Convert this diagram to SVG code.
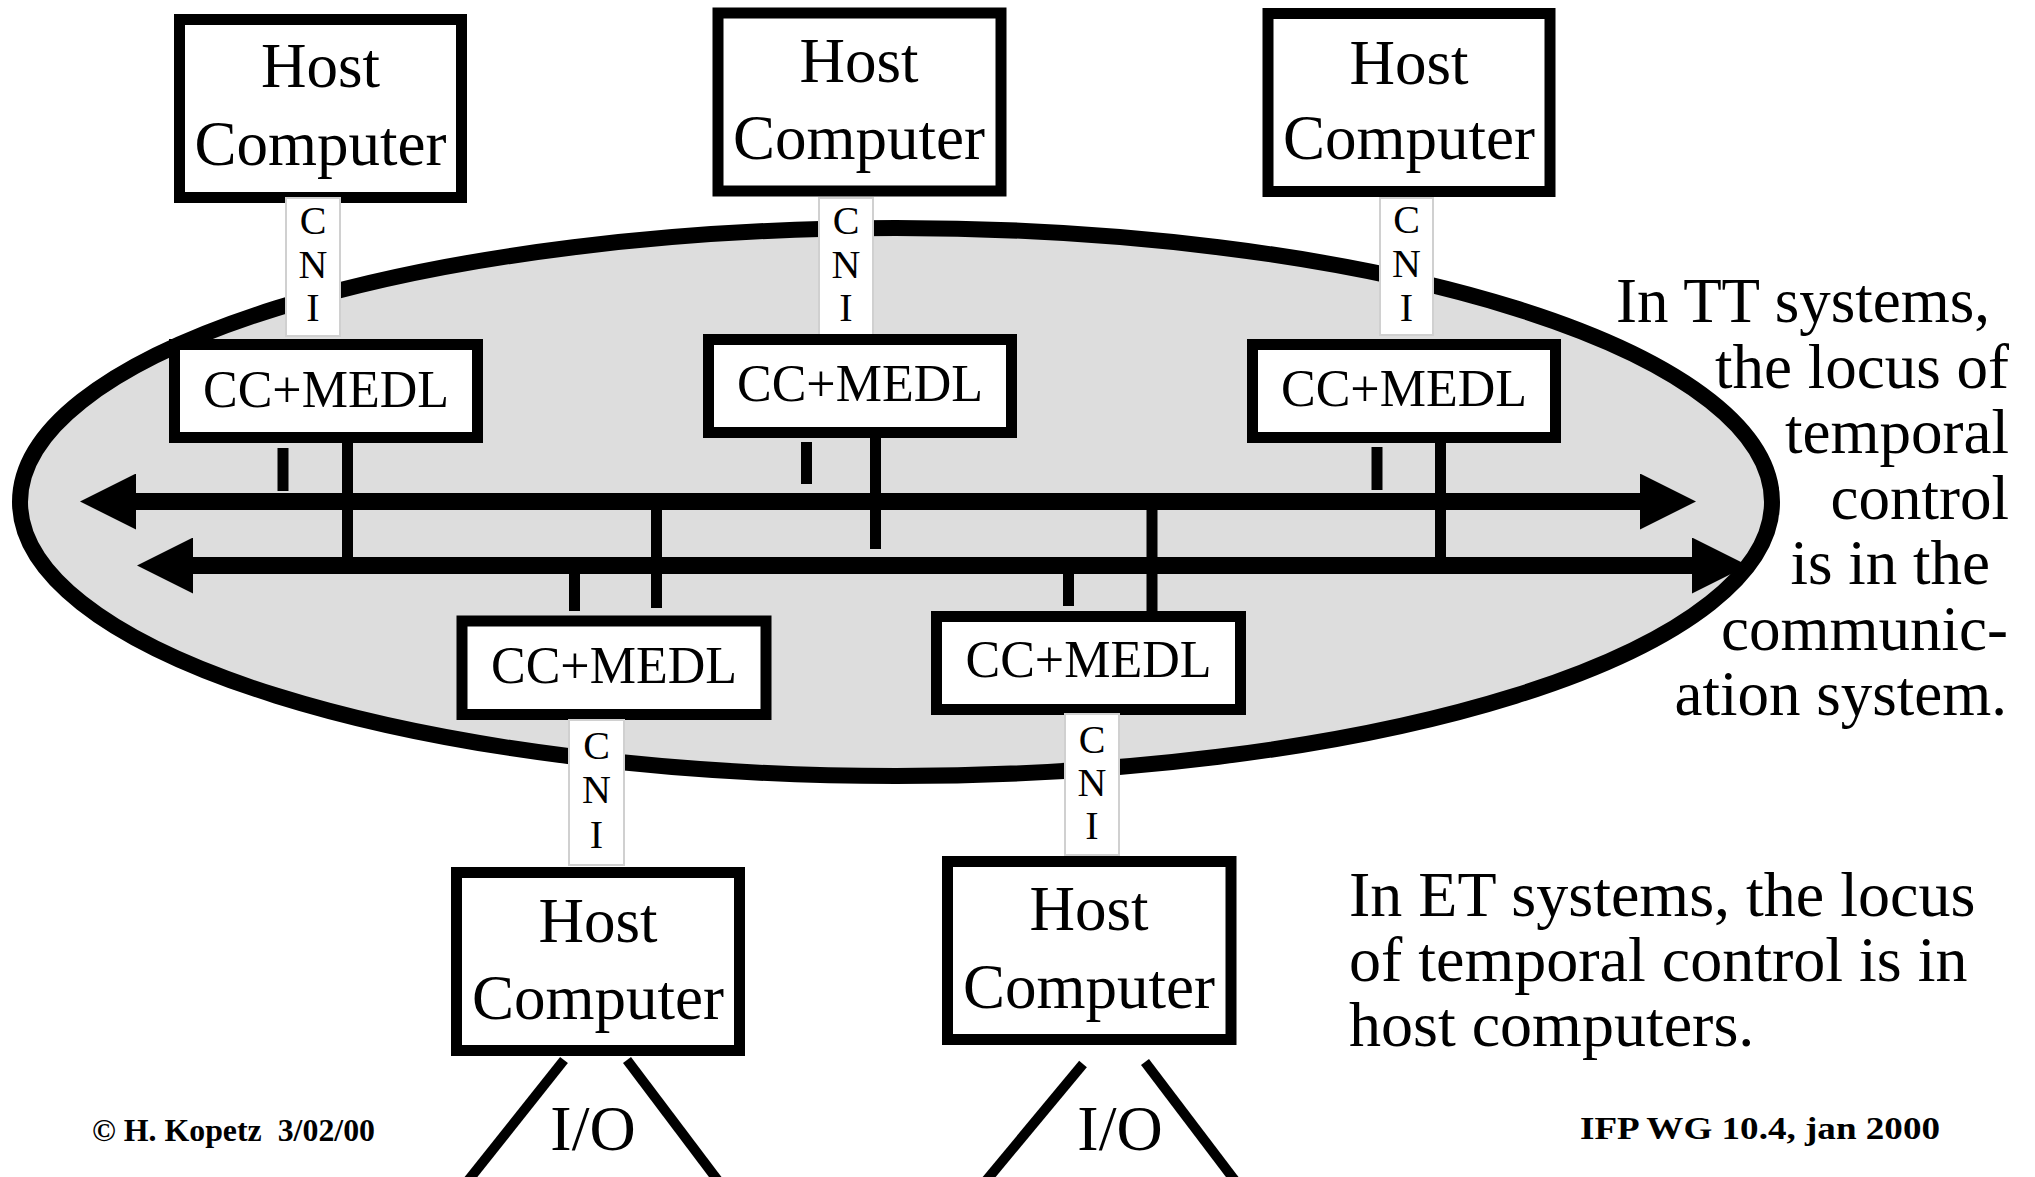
<svg xmlns="http://www.w3.org/2000/svg" width="2035" height="1177" viewBox="0 0 2035 1177">
  <defs>
    <style>
      .box { fill: #ffffff; stroke: #000000; stroke-width: 11; }
      .cni { fill: #ffffff; stroke: #d0d0d0; stroke-width: 2; }
      .bus { stroke: #000000; stroke-width: 17; fill: none; }
      .tap { stroke: #000000; stroke-width: 11; fill: none; }
      .io { stroke: #000000; stroke-width: 10; fill: none; }
      .t { font-family: "Liberation Serif", "Times New Roman", serif; fill: #000000; }
      .host { font-size: 63px; text-anchor: middle; }
      .cc { font-size: 52px; text-anchor: middle; }
      .cnit { font-size: 40px; text-anchor: middle; }
      .note { font-size: 63px; }
      .foot { font-size: 32px; font-weight: bold; }
    </style>
    <marker id="head" markerUnits="userSpaceOnUse" markerWidth="56" markerHeight="56" viewBox="0 0 56 56" refX="0" refY="28" orient="auto-start-reverse">
      <path d="M0,0 L56,28 L0,56 Z" fill="#000000"/>
    </marker>
  </defs>

  <rect x="0" y="0" width="2035" height="1177" fill="#ffffff"/>

  <!-- communication system -->
  <g id="network">
    <ellipse cx="896" cy="502" rx="876" ry="274" fill="#dddddd" stroke="#000000" stroke-width="16"/>
  </g>

  <!-- buses and taps -->
  <g id="connectors">
    <line class="bus" x1="136" y1="501.5" x2="1640" y2="501.5" marker-start="url(#head)" marker-end="url(#head)"/>
    <line class="bus" x1="193" y1="565.5" x2="1692" y2="565.5" marker-start="url(#head)" marker-end="url(#head)"/>

    <line class="tap" x1="283" y1="448" x2="283" y2="491"/>
    <line class="tap" x1="347.5" y1="443" x2="347.5" y2="565"/>
    <line class="tap" x1="806.5" y1="442" x2="806.5" y2="484"/>
    <line class="tap" x1="875.5" y1="437" x2="875.5" y2="549"/>
    <line class="tap" x1="1377" y1="447" x2="1377" y2="490"/>
    <line class="tap" x1="1440.5" y1="442" x2="1440.5" y2="566"/>

    <line class="tap" x1="574.5" y1="565" x2="574.5" y2="611"/>
    <line class="tap" x1="656.5" y1="501" x2="656.5" y2="608"/>
    <line class="tap" x1="1068.5" y1="565" x2="1068.5" y2="606"/>
    <line class="tap" x1="1152" y1="501" x2="1152" y2="612"/>

    <line class="io" x1="564" y1="1060" x2="467" y2="1182"/>
    <line class="io" x1="627" y1="1060" x2="719" y2="1182"/>
    <line class="io" x1="1083" y1="1064" x2="985" y2="1182"/>
    <line class="io" x1="1145" y1="1062" x2="1236" y2="1182"/>
  </g>

  <!-- upper nodes -->
  <g id="host1">
    <rect class="box" x="179.5" y="19.5" width="282" height="178"/>
    <text class="t host" x="320.5" y="87">Host</text>
    <text class="t host" x="320.5" y="165">Computer</text>
  </g>
  <g id="cni1">
    <rect class="cni" x="286" y="198" width="54" height="138"/>
    <text class="t cnit"><tspan x="313" y="234">C</tspan><tspan x="313" y="278">N</tspan><tspan x="313" y="321">I</tspan></text>
  </g>
  <g id="cc1">
    <rect class="box" x="174.5" y="344.5" width="303" height="93"/>
    <text class="t cc" x="326" y="407">CC+MEDL</text>
  </g>

  <g id="host2">
    <rect class="box" x="718" y="13" width="283" height="178"/>
    <text class="t host" x="859" y="82">Host</text>
    <text class="t host" x="859" y="159">Computer</text>
  </g>
  <g id="cni2">
    <rect class="cni" x="819" y="198" width="54" height="139"/>
    <text class="t cnit"><tspan x="846" y="234">C</tspan><tspan x="846" y="278">N</tspan><tspan x="846" y="321">I</tspan></text>
  </g>
  <g id="cc2">
    <rect class="box" x="708.5" y="339.5" width="303" height="93"/>
    <text class="t cc" x="860" y="401">CC+MEDL</text>
  </g>

  <g id="host3">
    <rect class="box" x="1268" y="13.5" width="282" height="178"/>
    <text class="t host" x="1409" y="84">Host</text>
    <text class="t host" x="1409" y="159">Computer</text>
  </g>
  <g id="cni3">
    <rect class="cni" x="1380" y="198" width="53" height="137"/>
    <text class="t cnit"><tspan x="1406.5" y="233">C</tspan><tspan x="1406.5" y="277">N</tspan><tspan x="1406.5" y="320.5">I</tspan></text>
  </g>
  <g id="cc3">
    <rect class="box" x="1252.5" y="344.5" width="303" height="93"/>
    <text class="t cc" x="1404" y="406">CC+MEDL</text>
  </g>

  <!-- lower nodes -->
  <g id="cc4">
    <rect class="box" x="462" y="621" width="304" height="93.5"/>
    <text class="t cc" x="614" y="683">CC+MEDL</text>
  </g>
  <g id="cni4">
    <rect class="cni" x="569" y="720" width="55" height="145"/>
    <text class="t cnit"><tspan x="596.5" y="759">C</tspan><tspan x="596.5" y="803">N</tspan><tspan x="596.5" y="848">I</tspan></text>
  </g>
  <g id="host4">
    <rect class="box" x="456.5" y="872.5" width="283" height="178"/>
    <text class="t host" x="598" y="942">Host</text>
    <text class="t host" x="598" y="1019">Computer</text>
  </g>

  <g id="cc5">
    <rect class="box" x="936.5" y="616.5" width="304" height="93"/>
    <text class="t cc" x="1088.5" y="677">CC+MEDL</text>
  </g>
  <g id="cni5">
    <rect class="cni" x="1065" y="714" width="54" height="141"/>
    <text class="t cnit"><tspan x="1092" y="753">C</tspan><tspan x="1092" y="796">N</tspan><tspan x="1092" y="839">I</tspan></text>
  </g>
  <g id="host5">
    <rect class="box" x="947.5" y="861.5" width="283.5" height="178"/>
    <text class="t host" x="1089" y="930">Host</text>
    <text class="t host" x="1089" y="1008">Computer</text>
  </g>

  <!-- I/O labels -->
  <g id="io-labels">
    <text class="t" x="593" y="1150" font-size="64" text-anchor="middle">I/O</text>
    <text class="t" x="1120" y="1150" font-size="64" text-anchor="middle">I/O</text>
  </g>

  <!-- explanatory notes -->
  <g id="note-tt" class="t note" text-anchor="end">
    <text x="1990" y="322">In TT systems,</text>
    <text x="2009" y="387.5">the locus of</text>
    <text x="2009" y="453">temporal</text>
    <text x="2009" y="518.5">control</text>
    <text x="1990" y="584">is in the</text>
    <text x="2008" y="649.5">communic-</text>
    <text x="2007" y="715">ation system.</text>
  </g>
  <g id="note-et" class="t note">
    <text x="1349" y="916" font-size="64">In ET systems, the locus</text>
    <text x="1349" y="981" font-size="64">of temporal control is in</text>
    <text x="1349" y="1046" font-size="64">host computers.</text>
  </g>

  <!-- footer -->
  <g id="footer">
    <text class="t foot" x="92" y="1141" textLength="283" lengthAdjust="spacingAndGlyphs" xml:space="preserve">© H. Kopetz  3/02/00</text>
    <text class="t foot" x="1580" y="1139" font-size="34" textLength="360" lengthAdjust="spacingAndGlyphs">IFP WG 10.4, jan 2000</text>
  </g>
</svg>
